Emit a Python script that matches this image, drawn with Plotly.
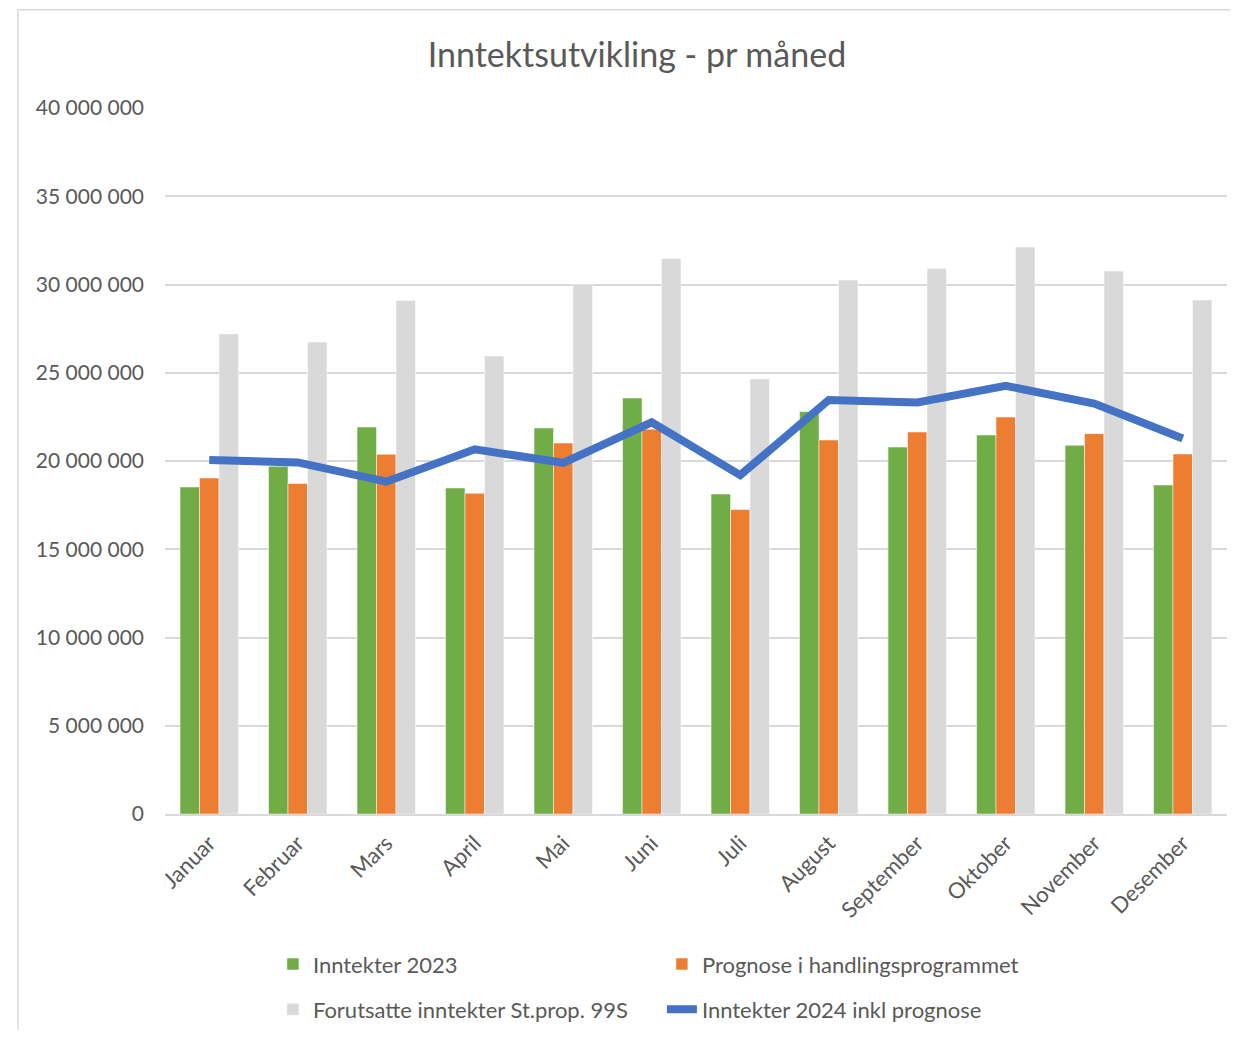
import plotly.graph_objects as go

# data
months = ['Januar', 'Februar', 'Mars', 'April', 'Mai', 'Juni', 'Juli',
          'August', 'September', 'Oktober', 'November', 'Desember']
inntekter_2023 = [18530000, 19700000, 21930000, 18470000, 21870000, 23570000,
                  18130000, 22800000, 20790000, 21470000, 20890000, 18640000]
prognose_hp = [19040000, 18730000, 20380000, 18170000, 21020000, 21800000,
               17250000, 21190000, 21640000, 22490000, 21550000, 20400000]
forutsatte_99s = [27200000, 26740000, 29100000, 25950000, 30030000, 31480000,
                  24650000, 30250000, 30900000, 32120000, 30760000, 29120000]
inntekter_2024 = [20060000, 19920000, 18830000, 20660000, 19900000, 22190000,
                  19200000, 23460000, 23320000, 24260000, 23250000, 21280000]
y_ticks = [0, 5000000, 10000000, 15000000, 20000000, 25000000, 30000000, 35000000, 40000000]

FONT = 'Lato'
GREY_TXT = '#595959'
W, H = 1222, 1022
L, R, T, B = 157, 3, 100, 216

fig = go.Figure()
fig.add_trace(go.Bar(x=months, y=inntekter_2023, name='Inntekter 2023', legend='legend',
                     marker=dict(color='#70AD47', line=dict(color='white', width=0.5))))
fig.add_trace(go.Bar(x=months, y=prognose_hp, name='Prognose i handlingsprogrammet', legend='legend',
                     marker=dict(color='#ED7D31', line=dict(color='white', width=0.5))))
fig.add_trace(go.Bar(x=months, y=forutsatte_99s, name='Forutsatte inntekter St.prop. 99S', legend='legend2',
                     marker=dict(color='#D9D9D9', line=dict(color='white', width=0.5))))
fig.add_trace(go.Scatter(x=months, y=inntekter_2024, name='Inntekter 2024 inkl prognose', legend='legend2',
                         mode='lines', line=dict(color='#4472C4', width=8)))

leg = dict(orientation='h', x=0.1016, xanchor='left', yanchor='top',
           entrywidth=344, entrywidthmode='pixels', traceorder='normal',
           bgcolor='rgba(0,0,0,0)', font=dict(family=FONT, size=22, color=GREY_TXT))

fig.update_layout(
    width=W, height=H,
    margin=dict(l=L, r=R, t=T, b=B, autoexpand=False),
    paper_bgcolor='white', plot_bgcolor='white',
    separators=', ',
    font=dict(family=FONT, color=GREY_TXT, size=21),
    title=dict(text='Inntektsutvikling - pr måned', x=0.5147, xanchor='center',
               y=0.954, yanchor='middle', font=dict(family=FONT, size=34, color=GREY_TXT)),
    barmode='group', bargap=0.34, bargroupgap=0,
    showlegend=True,
    legend=dict(leg, y=-0.183),
    legend2=dict(leg, y=-0.247),
    shapes=[dict(type='rect', xref='paper', yref='paper',
                 x0=-0.1384, x1=1.1, y0=-0.6, y1=1.139,
                 line=dict(color='#D9D9D9', width=1.5), layer='below')],
)
fig.update_xaxes(tickangle=-45, showgrid=False, showline=True, linecolor='#D9D9D9',
                 linewidth=1.5, ticks='', ticklabelstandoff=6,
                 tickfont=dict(size=22, color=GREY_TXT))
fig.update_yaxes(range=[0, 40000000], tickvals=y_ticks, tickformat=',.0f',
                 showgrid=True, gridcolor='#D9D9D9', gridwidth=1.5, zeroline=False,
                 showline=False, ticks='', ticklabelstandoff=20,
                 tickfont=dict(size=21, color=GREY_TXT))

fig.write_html('out.html')
